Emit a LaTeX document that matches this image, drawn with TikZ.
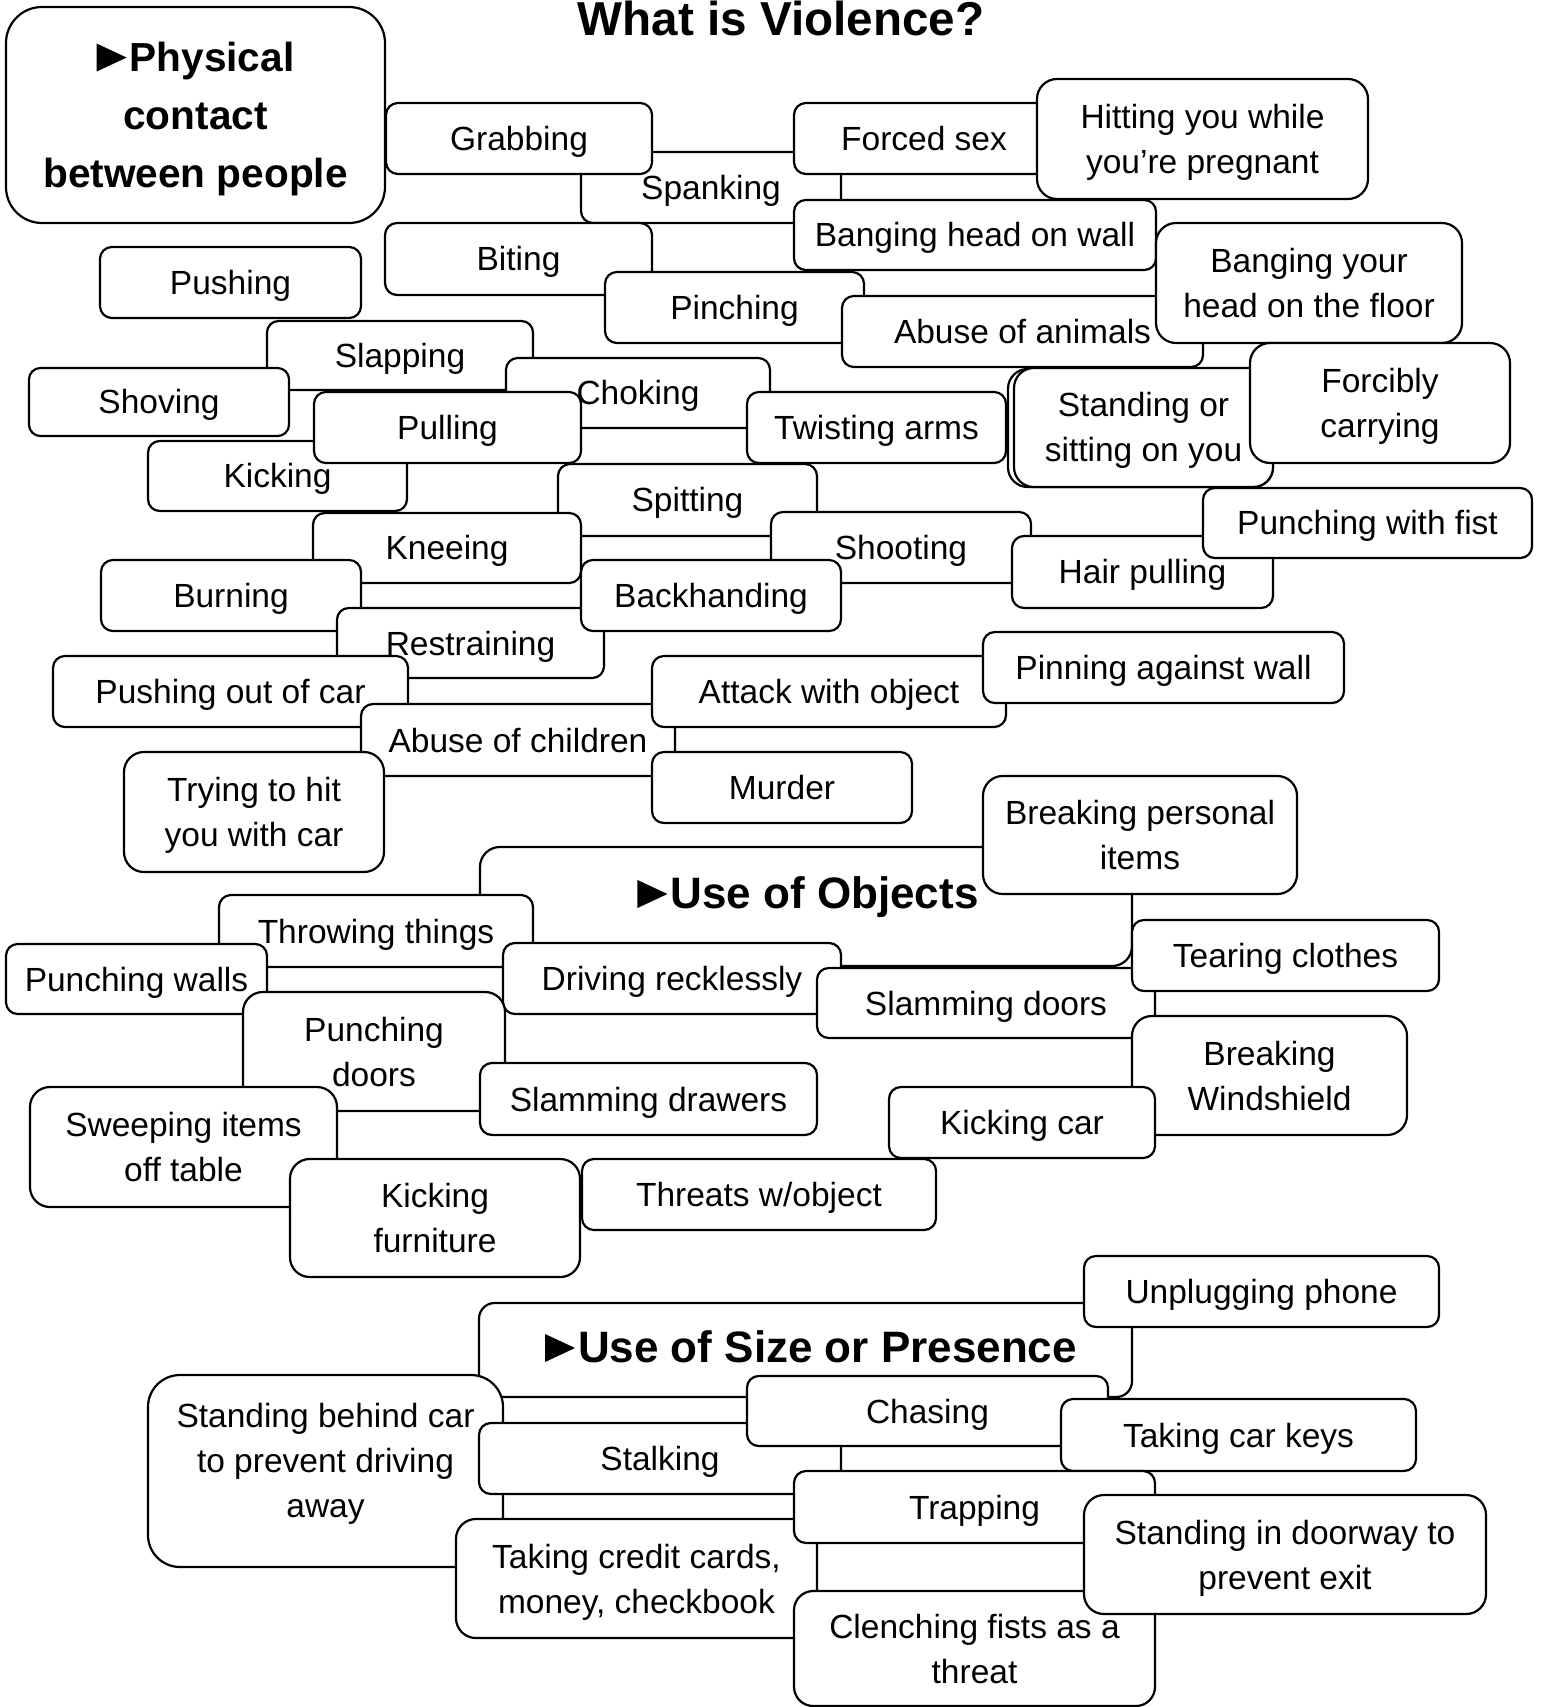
\documentclass[tikz,border=0pt]{standalone}
\usepackage{fontspec}
\setmainfont{Liberation Sans}
\newcommand\sk{\rule[\dimexpr0.358em-0.5\baselineskip\relax]{0pt}{\baselineskip}}
\newcommand\lnbrk{\sk\\\sk}
\newcommand\tri{\tikz[baseline=0pt,x=1pt,y=1pt,sharp corners]\path[fill=black,draw=none] (0,0)--(0,14)--(15,7)--cycle;\hspace{1.5pt}}
\tikzset{
  box/.style={draw, line width=1.1pt, fill=white, inner sep=0pt, align=center,
    font=\fontsize{16.75}{22.5}\selectfont},
  headbox/.style={box, font=\bfseries\fontsize{20.3}{29}\selectfont},
  headtext/.style={inner sep=0pt, anchor=base, font=\bfseries\fontsize{22}{26}\selectfont},
}
\newcommand\bx[7][]{%
  \node[box,minimum width={(#5-#3)*0.5pt},minimum height={(#6-#4)*0.5pt},
        rounded corners={(#6-#4)/12*1pt},#1] (#2) at ({(#3+#5)/2},{(#4+#6)/2}) {\sk #7};}
\begin{document}
\begin{tikzpicture}[x=0.5pt,y=-0.5pt]
\useasboundingbox (0,0) rectangle (1541,1707);
\node[inner sep=0pt, anchor=base, font=\bfseries\fontsize{23.8}{28}\selectfont] (title) at (781,36) {What is Violence?};
% ---------- Physical contact ----------
\bx[headbox]{phys}{6}{7}{385}{223}{\tri Physical\lnbrk contact\lnbrk between people}
\bx{spank}{581}{152}{841}{223}{Spanking}
\bx{grab}{386}{103}{652}{174}{Grabbing}
\bx{bite}{385}{223}{652}{295}{Biting}
\bx{forced}{794}{103}{1054}{174}{Forced sex}
\bx{hit}{1037}{79}{1368}{199}{Hitting you while\lnbrk you’re pregnant}
\bx{bhw}{794}{200}{1156}{270}{Banging head on wall}
\bx{pinch}{605}{272}{864}{343}{Pinching}
\bx{animals}{842}{296}{1203}{367}{Abuse of animals}
\bx{floor}{1156}{223}{1462}{343}{Banging your\lnbrk head on the floor}
\bx{hid}{1008}{369}{1273}{487}{}
\bx{stand}{1014}{368}{1273}{487}{Standing or\lnbrk sitting on you}
\bx{forcibly}{1250}{343}{1510}{463}{Forcibly\lnbrk carrying}
\bx{push}{100}{247}{361}{318}{Pushing}
\bx{slap}{267}{321}{533}{390}{Slapping}
\bx{shove}{29}{368}{289}{436}{Shoving}
\bx{choke}{506}{358}{770}{428}{Choking}
\bx{kick}{148}{441}{407}{511}{Kicking}
\bx{pull}{314}{392}{581}{463}{Pulling}
\bx{twist}{747}{392}{1006}{463}{Twisting arms}
\bx{spit}{558}{464}{817}{536}{Spitting}
\bx{knee}{313}{513}{581}{583}{Kneeing}
\bx{shoot}{771}{512}{1031}{583}{Shooting}
\bx{burn}{101}{560}{361}{631}{Burning}
\bx{restrain}{337}{608}{604}{678}{Restraining}
\bx{back}{581}{560}{841}{631}{Backhanding}
\bx{hair}{1012}{536}{1273}{608}{Hair pulling}
\bx{fist}{1203}{488}{1532}{558}{Punching with fist}
\bx{pushcar}{53}{656}{408}{727}{Pushing out of car}
\bx{children}{361}{704}{675}{776}{Abuse of children}
\bx{attack}{652}{656}{1006}{727}{Attack with object}
\bx{pin}{983}{632}{1344}{703}{Pinning against wall}
\bx{murder}{652}{752}{912}{823}{Murder}
\bx{trying}{124}{752}{384}{872}{Trying to hit\lnbrk you with car}
% ---------- Use of objects ----------
\bx{objbox}{480}{847}{1132}{966}{}
\node[headtext] (objtxt) at (808,908) {\tri Use of Objects};
\bx{personal}{983}{776}{1297}{894}{Breaking personal\lnbrk items}
\bx{throw}{219}{895}{533}{967}{Throwing things}
\bx{pwalls}{6}{944}{267}{1014}{Punching walls}
\bx{drive}{503}{943}{841}{1014}{Driving recklessly}
\bx{pdoors}{243}{992}{505}{1111}{Punching\lnbrk doors}
\bx{sdoors}{817}{968}{1155}{1038}{Slamming doors}
\bx{tear}{1132}{920}{1439}{991}{Tearing clothes}
\bx{wind}{1132}{1016}{1407}{1135}{Breaking\lnbrk Windshield}
\bx{kcar}{889}{1087}{1155}{1158}{Kicking car}
\bx{drawers}{480}{1063}{817}{1135}{Slamming drawers}
\bx{sweep}{30}{1087}{337}{1207}{Sweeping items\lnbrk off table}
\bx{kfurn}{290}{1159}{580}{1277}{Kicking\lnbrk furniture}
\bx{threats}{582}{1159}{936}{1230}{Threats w/object}
% ---------- Use of size or presence ----------
\bx{sizebox}{479}{1303}{1132}{1397}{}
\node[headtext] (sizetxt) at (811,1362) {\tri Use of Size or Presence};
\bx{unplug}{1084}{1256}{1439}{1327}{Unplugging phone}
\bx{sbehind}{148}{1375}{503}{1567}{Standing behind car\lnbrk to prevent driving\lnbrk away\rule[-16.25pt]{0pt}{0pt}}
\bx{stalk}{479}{1423}{841}{1494}{Stalking}
\bx{chase}{747}{1376}{1108}{1446}{Chasing}
\bx{keys}{1061}{1399}{1416}{1471}{Taking car keys}
\bx{credit}{456}{1519}{817}{1638}{Taking credit cards,\lnbrk money, checkbook}
\bx{trap}{794}{1471}{1155}{1543}{Trapping}
\bx{clench}{794}{1591}{1155}{1706}{Clenching fists as a\lnbrk threat}
\bx{door}{1084}{1495}{1486}{1614}{Standing in doorway to\lnbrk prevent exit}
\end{tikzpicture}
\end{document}
